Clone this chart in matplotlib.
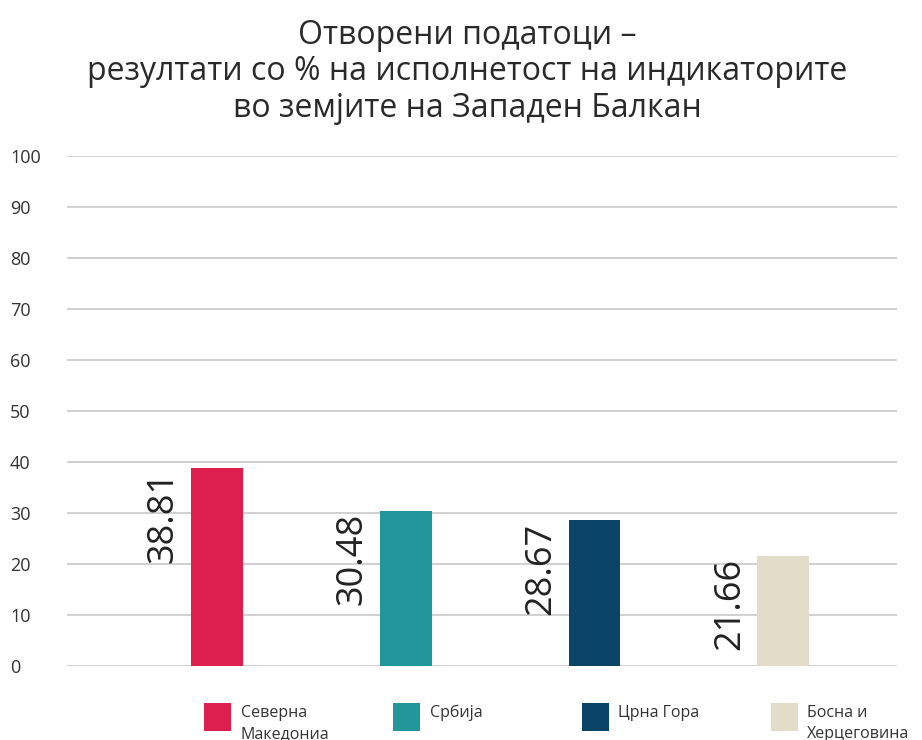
import numpy as np
import matplotlib
matplotlib.use('Agg')
import matplotlib.pyplot as plt
import matplotlib.transforms as mtransforms
from matplotlib.patches import Rectangle

'''Data read off the reference chart'''
countries = ['Северна\nМакедониа', 'Србија', 'Црна Гора', 'Босна и\nХерцеговина']
values = [38.81, 30.48, 28.67, 21.66]
colors = ['#dc1f4f', '#21969b', '#0a4466', '#e3dcc8']
yticks = np.arange(0, 101, 10)

title = 'Отворени податоци –\nрезултати со % на исполнетост на индикаторите\nво земјите на Западен Балкан'

plt.rcParams['font.family'] = ['Open Sans', 'DejaVu Sans']

fig = plt.figure(figsize=(9.22, 7.4), dpi=100)
ax = fig.add_axes([0.0727, 0.1, 0.9003, 0.689])

x = np.arange(len(values))
bw = 0.275
ax.bar(x, values, width=bw, color=colors, zorder=3)

# value labels, rotated, left of each bar
for xi, v in zip(x, values):
    ax.text(xi - bw / 2 - 0.05, v - 0.5, f'{v:.2f}', rotation=90, ha='right', va='top',
            fontsize=26, color='#222222', zorder=4)

ax.set_xlim(-0.794, 3.603)
ax.set_ylim(0, 100)
ax.set_yticks(yticks)
ax.set_xticks([])
ax.grid(axis='y', color='#c8c8c8', linewidth=1.2, zorder=0)
for s in ax.spines.values():
    s.set_visible(False)
ax.tick_params(axis='y', length=0, pad=41, labelsize=13, labelcolor='#333333')
for lab in ax.get_yticklabels():
    lab.set_horizontalalignment('left')

fig.text(0.507, 0.975, title, ha='center', va='top', fontsize=23, color='#2a2a2a',
         linespacing=1.15)

# legend under the bars
trans = mtransforms.blended_transform_factory(ax.transData, fig.transFigure)
sq_w = 27 / 189
for xi, name, c in zip(x, countries, colors):
    ax.add_patch(Rectangle((xi - sq_w / 2 + 0.005, 9 / 740), sq_w, 28 / 740, transform=trans,
                           facecolor=c, clip_on=False))
    ax.text(xi + sq_w / 2 + 0.055, 35 / 740, name, transform=trans, ha='left', va='top',
            fontsize=11.5, color='#333333', linespacing=1.45, clip_on=False)

fig.savefig('out.png', dpi=100, facecolor='white')
